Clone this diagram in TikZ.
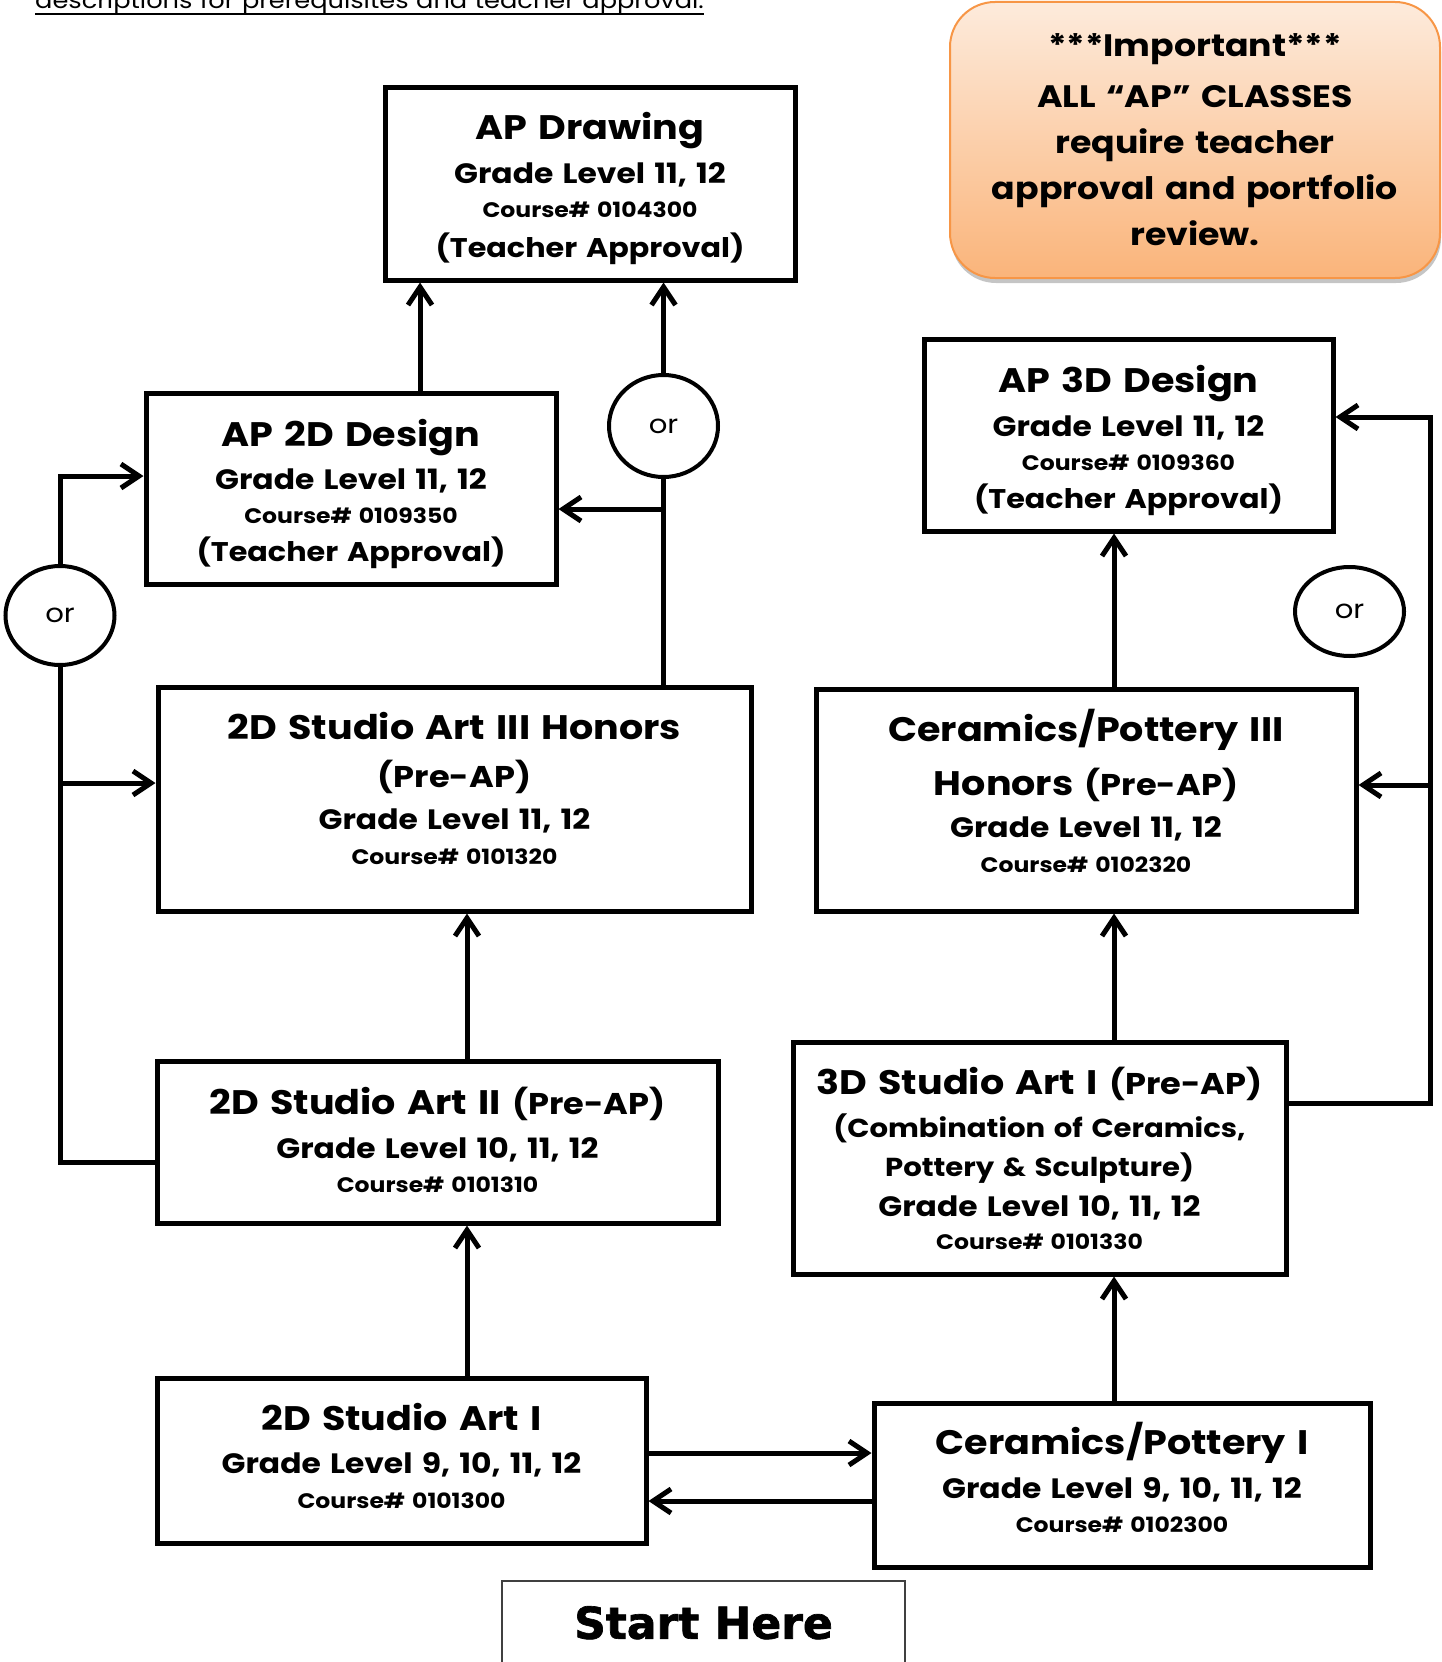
\documentclass[tikz,border=0pt]{standalone}
\usepackage{fontspec}
\setmainfont{Poppins}[FakeStretch=1.12]
\newfontfamily\startfont{DejaVu Sans}[BoldFeatures={FakeBold=1.5}]
\usetikzlibrary{arrows.meta,shapes.geometric,shadows}

\definecolor{noteTop}{HTML}{FDEBDC}
\definecolor{noteBottom}{HTML}{FAB47A}
\definecolor{noteEdge}{HTML}{F79646}

% one line of a course box: size, skip above, text
\newcommand{\widespace}{\spaceskip=.33em\relax}
\newcommand{\crsline}[3]{{\fontsize{#1}{#2}\selectfont\widespace #3\par}}
\newcommand{\preap}{{\fontsize{30}{30}\selectfont\widespace (Pre-AP)}}

\tikzset{
  course/.style={draw, line width=5pt, inner sep=0pt},
  coursetext/.style={anchor=base, align=center, inner sep=0pt, font=\bfseries},
  orbubble/.style={ellipse, draw, line width=4pt, inner sep=0pt, minimum width=109pt,
    font=\fontsize{26}{30}\selectfont},
  link/.style={line width=5pt},
  flow/.style={link, -{Straight Barb[length=18pt,width=24pt]}},
}

\begin{document}
\begin{tikzpicture}[x=1pt,y=-1pt]
    \useasboundingbox (0,0) rectangle (1442,1662);

    % note at the top (cut off)
    \node[anchor=base west, inner sep=0pt, font=\fontsize{22.9}{26}\selectfont] (topNote) at (35,9)
        {\widespace descriptions for prerequisites and teacher approval.};
    \draw[line width=2.5pt] ([yshift=-5pt]topNote.base west) -- ([yshift=-5pt]topNote.base east);

    % AP classes
    \node[course, minimum width=410pt, minimum height=193pt] (drawAP) at (590,183.5) {};
    \node[coursetext, text width=400pt] (drawAPtxt) at ([yshift=-55pt]drawAP.north)
        {\crsline{34}{34}{AP Drawing}\crsline{28}{44}{Grade Level 11, 12}%
         \crsline{21}{34}{Course\# 0104300}\crsline{27}{40}{(Teacher Approval)}};

    \node[course, minimum width=410pt, minimum height=191pt] (designTwoD) at (351,488.5) {};
    \node[coursetext, text width=400pt] (designTwoDtxt) at ([yshift=-56pt]designTwoD.north)
        {\crsline{34}{34}{AP 2D Design}\crsline{28}{43}{Grade Level 11, 12}%
         \crsline{21}{34}{Course\# 0109350}\crsline{27}{38}{(Teacher Approval)}};

    \node[course, minimum width=409pt, minimum height=192pt] (designThreeD) at (1128.5,435) {};
    \node[coursetext, text width=400pt] (designThreeDtxt) at ([yshift=-56pt]designThreeD.north)
        {\crsline{34}{34}{AP 3D Design}\crsline{28}{44}{Grade Level 11, 12}%
         \crsline{21}{34}{Course\# 0109360}\crsline{27}{38}{(Teacher Approval)}};

    % 2D track
    \node[course, minimum width=593pt, minimum height=224pt] (studioTwoDiii) at (454.5,799) {};
    \node[coursetext, text width=580pt] (studioTwoDiiitxt) at ([yshift=-55pt]studioTwoDiii.north)
        {\crsline{34}{34}{2D Studio Art III Honors}\crsline{30}{48}{(Pre-AP)}%
         \crsline{28}{42}{Grade Level 11, 12}\crsline{21}{35}{Course\# 0101320}};

    \node[course, minimum width=561pt, minimum height=162pt] (studioTwoDii) at (437.5,1142) {};
    \node[coursetext, text width=550pt] (studioTwoDiitxt) at ([yshift=-56pt]studioTwoDii.north)
        {\crsline{34}{34}{2D Studio Art II \preap}\crsline{28}{44}{Grade Level 10, 11, 12}%
         \crsline{21}{34}{Course\# 0101310}};

    \node[course, minimum width=489pt, minimum height=165pt] (studioTwoDi) at (401.5,1460.5) {};
    \node[coursetext, text width=480pt] (studioTwoDitxt) at ([yshift=-55pt]studioTwoDi.north)
        {\crsline{34}{34}{2D Studio Art I}\crsline{28}{43}{Grade Level 9, 10, 11, 12}%
         \crsline{21}{35}{Course\# 0101300}};

    % 3D track
    \node[course, minimum width=540pt, minimum height=222pt] (ceramicsIII) at (1086,800) {};
    \node[coursetext, text width=530pt] (ceramicsIIItxt) at ([yshift=-55pt]ceramicsIII.north)
        {\crsline{34}{34}{Ceramics/Pottery III}\crsline{34}{54}{Honors \preap}%
         \crsline{28}{42}{Grade Level 11, 12}\crsline{21}{35}{Course\# 0102320}};

    \node[course, minimum width=493pt, minimum height=232pt] (studioThreeDi) at (1039.5,1158) {};
    \node[coursetext, text width=485pt] (studioThreeDitxt) at ([yshift=-55pt]studioThreeDi.north)
        {\crsline{34}{34}{3D Studio Art I \preap}\crsline{26}{43}{(Combination of Ceramics,}%
         \crsline{26}{39}{Pottery \& Sculpture)}\crsline{28}{40}{Grade Level 10, 11, 12}%
         \crsline{21}{33}{Course\# 0101330}};

    \node[course, minimum width=496pt, minimum height=164pt] (ceramicsI) at (1122,1485) {};
    \node[coursetext, text width=485pt] (ceramicsItxt) at ([yshift=-54pt]ceramicsI.north)
        {\crsline{34}{34}{Ceramics/Pottery I}\crsline{28}{44}{Grade Level 9, 10, 11, 12}%
         \crsline{21}{34}{Course\# 0102300}};

    % or bubbles
    \node[orbubble, minimum height=99pt] (orLeft) at (60,615.5) {or};
    \node[orbubble, minimum height=102pt] (orMid) at (663.5,426) {or};
    \node[orbubble, minimum height=89pt] (orRight) at (1349.5,611.5) {or};

    % important note
    \node[draw=noteEdge, line width=2pt, rounded corners=45pt, top color=noteTop, bottom color=noteBottom,
          drop shadow={shadow xshift=1pt, shadow yshift=-5pt, fill=black!45},
          minimum width=490pt, minimum height=276pt, text width=480pt, align=center, inner sep=0pt,
          font=\bfseries] (apNote) at (1195,140)
        {\vspace*{8pt}\crsline{31}{46}{***Important***}\crsline{31}{43}{ALL “AP” CLASSES}%
         \crsline{31}{46}{require teacher}\crsline{31}{46}{approval and portfolio}%
         \crsline{31}{46}{review.}};

    % start here
    \node[draw=black!75, line width=1.5pt, anchor=north, minimum width=403pt, inner ysep=26pt,
          text height=32pt, text depth=70pt, font=\startfont\bfseries\fontsize{44}{46}\selectfont]
        (startHere) at (703.5,1580) {Start Here};

    % 2D track arrows
    \draw[flow] (studioTwoDi.north -| 467,0) -- (studioTwoDii.south -| 467,0);
    \draw[flow] (studioTwoDii.north -| 467,0) -- (studioTwoDiii.south -| 467,0);
    \draw[flow] (studioTwoDi.east |- 0,1453) -- (ceramicsI.west |- 0,1453);
    \draw[flow] (ceramicsI.west |- 0,1501) -- (studioTwoDi.east |- 0,1501);

    % left or
    \draw[link] (studioTwoDii.west |- 0,1162) -| (orLeft.south);
    \draw[flow] (orLeft.south |- 0,783) -- (studioTwoDiii.west |- 0,783);
    \draw[flow] (orLeft.north) |- (designTwoD.west |- 0,476);

    % middle or
    \draw[link] (studioTwoDiii.north -| orMid.south) -- (orMid.south);
    \draw[flow] (orMid.south |- 0,509) -- (designTwoD.east |- 0,509);
    \draw[flow] (orMid.north) -- (orMid.north |- drawAP.south);
    \draw[flow] (designTwoD.north -| 420,0) -- (drawAP.south -| 420,0);

    % 3D track arrows
    \draw[flow] (ceramicsI.north -| 1114,0) -- (studioThreeDi.south -| 1114,0);
    \draw[flow] (studioThreeDi.north -| 1114,0) -- (ceramicsIII.south -| 1114,0);
    \draw[flow] (ceramicsIII.north -| 1114,0) -- (designThreeD.south -| 1114,0);

    % right rail
    \coordinate (rightRail) at (1430,417);
    \draw[flow] (studioThreeDi.east |- 0,1103) -| (rightRail) -- (designThreeD.east |- rightRail);
    \draw[flow] (rightRail |- 0,785) -- (ceramicsIII.east |- 0,785);
\end{tikzpicture}
\end{document}
